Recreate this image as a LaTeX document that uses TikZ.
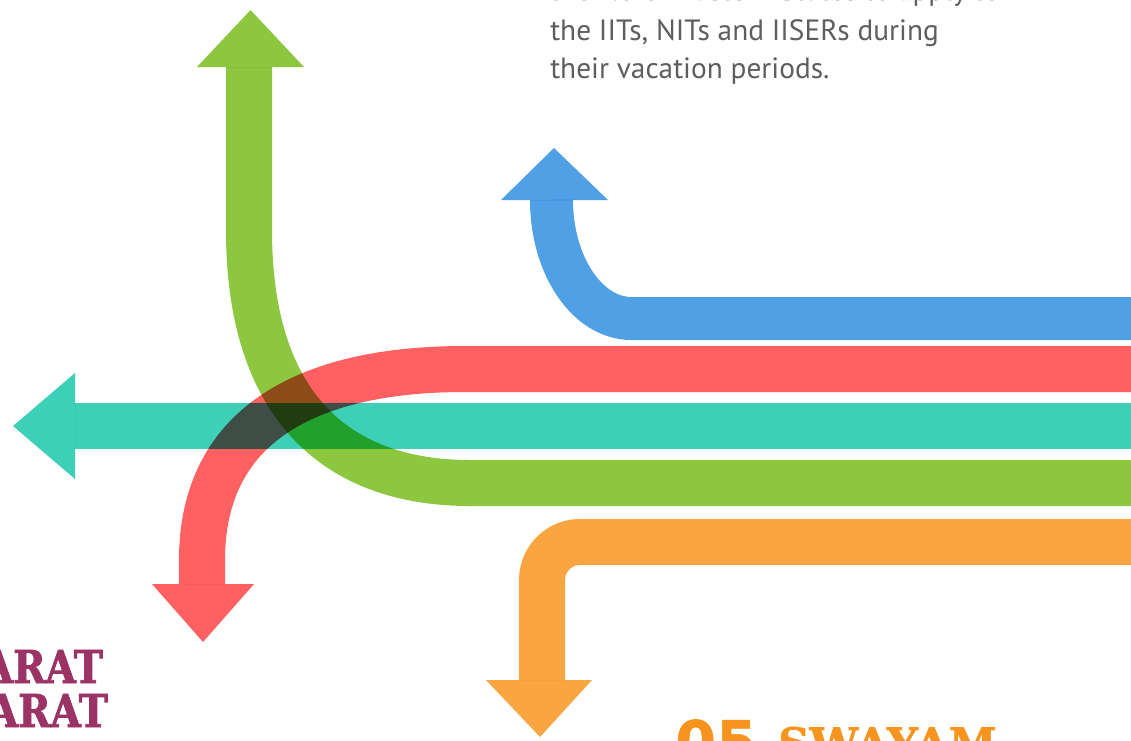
\documentclass[tikz,border=0pt]{standalone}
\usepackage{fontspec}
\setmainfont{PT Sans}
\newfontfamily\slabfont{DejaVu Serif}[BoldFeatures={FakeBold=1.5}]
\newfontfamily\purpfont{DejaVu Serif}[FakeStretch=0.86, BoldFeatures={FakeBold=1.8}]
\newfontfamily\numfont{DejaVu Sans}[BoldFeatures={FakeBold=1}]
\definecolor{cgreen}{HTML}{8DC63F}
\definecolor{cred}{HTML}{FF6163}
\definecolor{cteal}{HTML}{3ECFB7}
\definecolor{cblue}{HTML}{4FA0E5}
\definecolor{corange}{HTML}{F9A542}
\definecolor{cpurple}{HTML}{9B3366}
\definecolor{ctitle}{HTML}{F7941D}
\definecolor{cbody}{HTML}{5E5E5E}
\tikzset{
  shaft/.style={line width=34.5pt, line cap=butt, line join=round},
  body/.style={inner sep=0pt, text=cbody, font=\fontsize{22}{28}\selectfont},
  purp/.style={inner sep=0pt, anchor=base east, text=cpurple, font=\purpfont\bfseries\fontsize{34}{34}\selectfont},
}
\begin{document}
\begin{tikzpicture}[x=0.75pt,y=-0.75pt]
\useasboundingbox (0,0) rectangle (1131,740);
\clip (0,0) rectangle (1131,740);
\fill[white] (0,0) rectangle (1131,740);
\begin{scope}[blend mode=multiply]
  % green
  \draw[shaft, cgreen] (249,67) -- (249,230) .. controls (249,410) and (340,483) .. (470,483) -- (1131,483);
  \fill[cgreen] (197,67) -- (304,67) -- (250.5,10) -- cycle;
  % red
  \draw[shaft, cred] (1131,369) -- (465,369) .. controls (300,369) and (202,430) .. (202,560) -- (202,584);
  \fill[cred] (152,584) -- (254,584) -- (203,642) -- cycle;
  % teal
  \draw[shaft, cteal] (1131,426) -- (75,426);
  \fill[cteal] (75,373) -- (75,479) -- (13,426) -- cycle;
  % blue
  \draw[shaft, line width=32.25pt, cblue] (1131,318.5) -- (631.5,318.5) .. controls (587.3,318.5) and (551.5,265.4) .. (551.5,200);
  \fill[cblue] (501,200) -- (608,200) -- (554,148) -- cycle;
  % orange
  \draw[shaft, corange, rounded corners=28.5pt] (1131,542) -- (542,542) -- (542,680);
  \fill[corange] (486,680) -- (592,680) -- (540,737) -- cycle;
\end{scope}
% texts
\node[body, anchor=base west] (l1) at (550,0.5) {the North Eastern States to apply to};
\node[body, anchor=base west] (l2) at (550,40) {the IITs, NITs and IISERs during};
\node[body, anchor=base west] (l3) at (550,78) {their vacation periods.};
\node[purp] (b1) at (103,683) {ARAT};
\node[purp] (b2) at (108,727) {ARAT};
\node[inner sep=0pt, anchor=base west, text=ctitle, font=\numfont\bfseries\fontsize{44}{44}\selectfont] (n5) at (675,763) {05};
\node[inner sep=0pt, anchor=base west, text=ctitle, font=\slabfont\bfseries\fontsize{32.5}{33}\selectfont] (sw) at (778,759) {SWAYAM};
\end{tikzpicture}
\end{document}
